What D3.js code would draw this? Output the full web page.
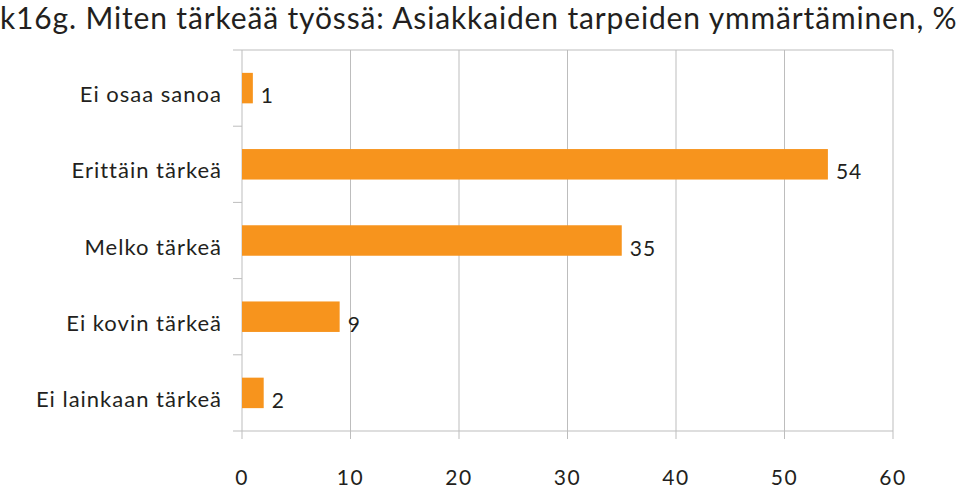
<!DOCTYPE html>
<html>
<head>
<meta charset="utf-8">
<script src="https://d3js.org/d3.v7.min.js"></script>
<style>
  body { margin: 0; background: #fff; }
  svg text { font-family: Lato, "Noto Sans", sans-serif; fill: #231f20; }
  .grid line { stroke: #bdbdbd; stroke-width: 1; }
  .bar { fill: #f7941d; }
</style>
</head>
<body>
<svg id="chart"></svg>
<script>
// data
const title = "k16g. Miten tärkeää työssä: Asiakkaiden tarpeiden ymmärtäminen, %";
const categories = ["Ei osaa sanoa", "Erittäin tärkeä", "Melko tärkeä", "Ei kovin tärkeä", "Ei lainkaan tärkeä"];
const values = [1, 54, 35, 9, 2];
const xTicks = [0, 10, 20, 30, 40, 50, 60];

const width = 960, height = 489;
const margin = {top: 50, right: 67, bottom: 58, left: 242};

const svg = d3.select("#chart").attr("width", width).attr("height", height);

const x = d3.scaleLinear().domain([0, 60]).range([margin.left, width - margin.right]);
const y = d3.scaleBand().domain(categories)
  .range([margin.top, height - margin.bottom])
  .paddingInner(0.6).paddingOuter(0.3);

svg.append("text")
  .attr("x", 0).attr("y", 29)
  .style("font-size", "30px")
  .style("letter-spacing", "0.85px")
  .text(title);

// vertical grid lines
const grid = svg.append("g").attr("class", "grid");
grid.selectAll("line.v").data(xTicks).enter().append("line")
  .attr("class", "v")
  .attr("x1", d => x(d)).attr("x2", d => x(d))
  .attr("y1", margin.top).attr("y2", height - margin.bottom + 8);

// top and bottom frame lines
[margin.top, height - margin.bottom].forEach(yy => {
  grid.append("line")
    .attr("x1", margin.left - 9).attr("x2", x(60))
    .attr("y1", yy).attr("y2", yy);
});

// category separators on the left axis
const gap = y.step() - y.bandwidth();
grid.selectAll("line.sep").data(categories.slice(1)).enter().append("line")
  .attr("class", "sep")
  .attr("x1", margin.left - 9).attr("x2", margin.left)
  .attr("y1", d => y(d) - gap / 2)
  .attr("y2", d => y(d) - gap / 2);

// bars
svg.selectAll("rect.bar").data(values).enter().append("rect")
  .attr("class", "bar")
  .attr("x", x(0))
  .attr("y", (d, i) => y(categories[i]))
  .attr("width", d => x(d) - x(0))
  .attr("height", y.bandwidth());

// value labels
svg.selectAll("text.val").data(values).enter().append("text")
  .attr("class", "val")
  .attr("x", d => x(d) + 8)
  .attr("y", (d, i) => y(categories[i]) + y.bandwidth() / 2 + 15)
  .style("font-size", "21px")
  .style("letter-spacing", "1px")
  .text(d => d);

// category labels
svg.selectAll("text.cat").data(categories).enter().append("text")
  .attr("class", "cat")
  .attr("x", margin.left - 20)
  .attr("y", d => y(d) + y.bandwidth() / 2 + 14)
  .attr("text-anchor", "end")
  .style("font-size", "22px")
  .style("letter-spacing", "1px")
  .text(d => d);

// x tick labels
svg.selectAll("text.tick").data(xTicks).enter().append("text")
  .attr("class", "tick")
  .attr("x", d => x(d))
  .attr("y", 485)
  .attr("text-anchor", "middle")
  .style("font-size", "21px")
  .style("letter-spacing", "1.5px")
  .text(d => d);
</script>
</body>
</html>
